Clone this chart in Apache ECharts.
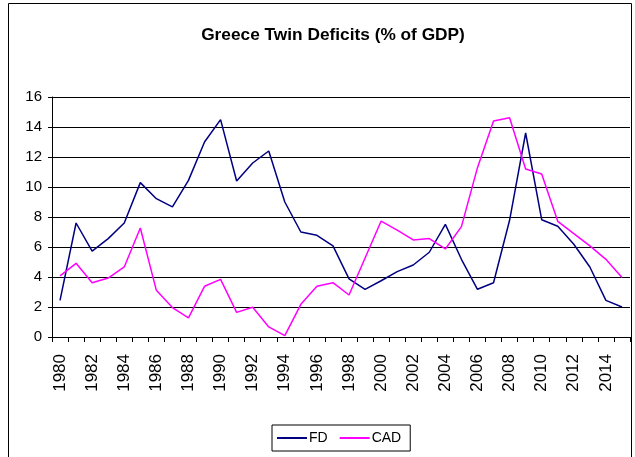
<!DOCTYPE html>
<html>
<head>
<meta charset="utf-8">
<script src="https://cdn.jsdelivr.net/npm/echarts@6/dist/echarts.min.js"></script>
<style>
  html, body { margin: 0; padding: 0; background: #fff; }
  #main { width: 635px; height: 457px; }
</style>
</head>
<body>
<div id="main"></div>
<script>
// years on the x axis
const years = []
for (let y = 1980; y <= 2015; y++) years.push(String(y))

// fiscal deficit, % of GDP
const fdValues = [2.44, 7.6, 5.73, 6.56, 7.6, 10.29, 9.22, 8.67, 10.44, 13.0, 14.49, 10.4, 11.6, 12.4, 9.0, 7.0, 6.78, 6.07,
  3.87, 3.18, 3.75, 4.36, 4.8, 5.65, 7.51, 5.18, 3.18, 3.62, 7.78, 13.6, 7.82, 7.38, 6.18, 4.67, 2.44, 2.0]
// current account deficit, % of GDP
const cadValues = [4.07, 4.91, 3.62, 3.93, 4.67, 7.27, 3.11, 1.96, 1.27, 3.38, 3.84, 1.64, 1.98, 0.67, 0.09, 2.18, 3.38, 3.62,
  2.8, 5.27, 7.73, 7.13, 6.47, 6.56, 5.87, 7.36, 11.29, 14.4, 14.62, 11.2, 10.87, 7.71, 6.89, 6.07, 5.18, 3.96]

const yTicks = [0, 2, 4, 6, 8, 10, 12, 14, 16]

const font = "'Liberation Sans', Arial, sans-serif"

const chart = echarts.init(document.getElementById('main'))
chart.setOption({
  backgroundColor: '#fff',
  animation: false,
  textStyle: { fontFamily: font },
  title: {
    text: 'Greece Twin Deficits (% of GDP)',
    left: 328,
    textAlign: 'center',
    top: 22,
    textStyle: { fontSize: 17.3, fontWeight: 'bold', color: '#000', fontFamily: font }
  },
  graphic: [{
    type: 'rect',
    shape: { x: 8.5, y: 3.5, width: 623, height: 460 },
    style: { fill: 'none', stroke: '#000', lineWidth: 1 },
    silent: true
  }],
  legend: {
    left: 272,
    top: 425,
    data: ['FD', 'CAD'],
    icon: 'rect',
    itemWidth: 30,
    itemHeight: 2,
    itemGap: 12,
    padding: [6, 9, 6, 5],
    borderColor: '#000',
    borderWidth: 1,
    textStyle: { fontSize: 14, color: '#000', fontFamily: font, padding: [0, 0, 0, -3] }
  },
  grid: { left: 52, right: 5, top: 97, bottom: 120 },
  xAxis: {
    type: 'category',
    data: years,
    boundaryGap: true,
    axisLine: { lineStyle: { color: '#000', width: 1 } },
    axisTick: { show: true, interval: 0, length: 5, lineStyle: { color: '#000' } },
    axisLabel: { interval: 1, rotate: 90, fontSize: 17, color: '#000', margin: 17, fontFamily: font },
    splitLine: { show: false }
  },
  yAxis: {
    type: 'value',
    min: yTicks[0],
    max: yTicks[yTicks.length - 1],
    interval: 2,
    axisLine: { show: true, lineStyle: { color: '#000', width: 1 } },
    axisTick: { show: true, length: 4, lineStyle: { color: '#000' } },
    axisLabel: { fontSize: 15, color: '#000', margin: 10, fontFamily: font },
    splitLine: { show: true, lineStyle: { color: '#000', width: 1 } }
  },
  series: [
    {
      name: 'FD',
      type: 'line',
      data: fdValues,
      symbol: 'none',
      color: '#000080',
      lineStyle: { width: 1.5, color: '#000080' }
    },
    {
      name: 'CAD',
      type: 'line',
      data: cadValues,
      symbol: 'none',
      color: '#ff00ff',
      lineStyle: { width: 1.5, color: '#ff00ff' }
    }
  ]
})
</script>
</body>
</html>
